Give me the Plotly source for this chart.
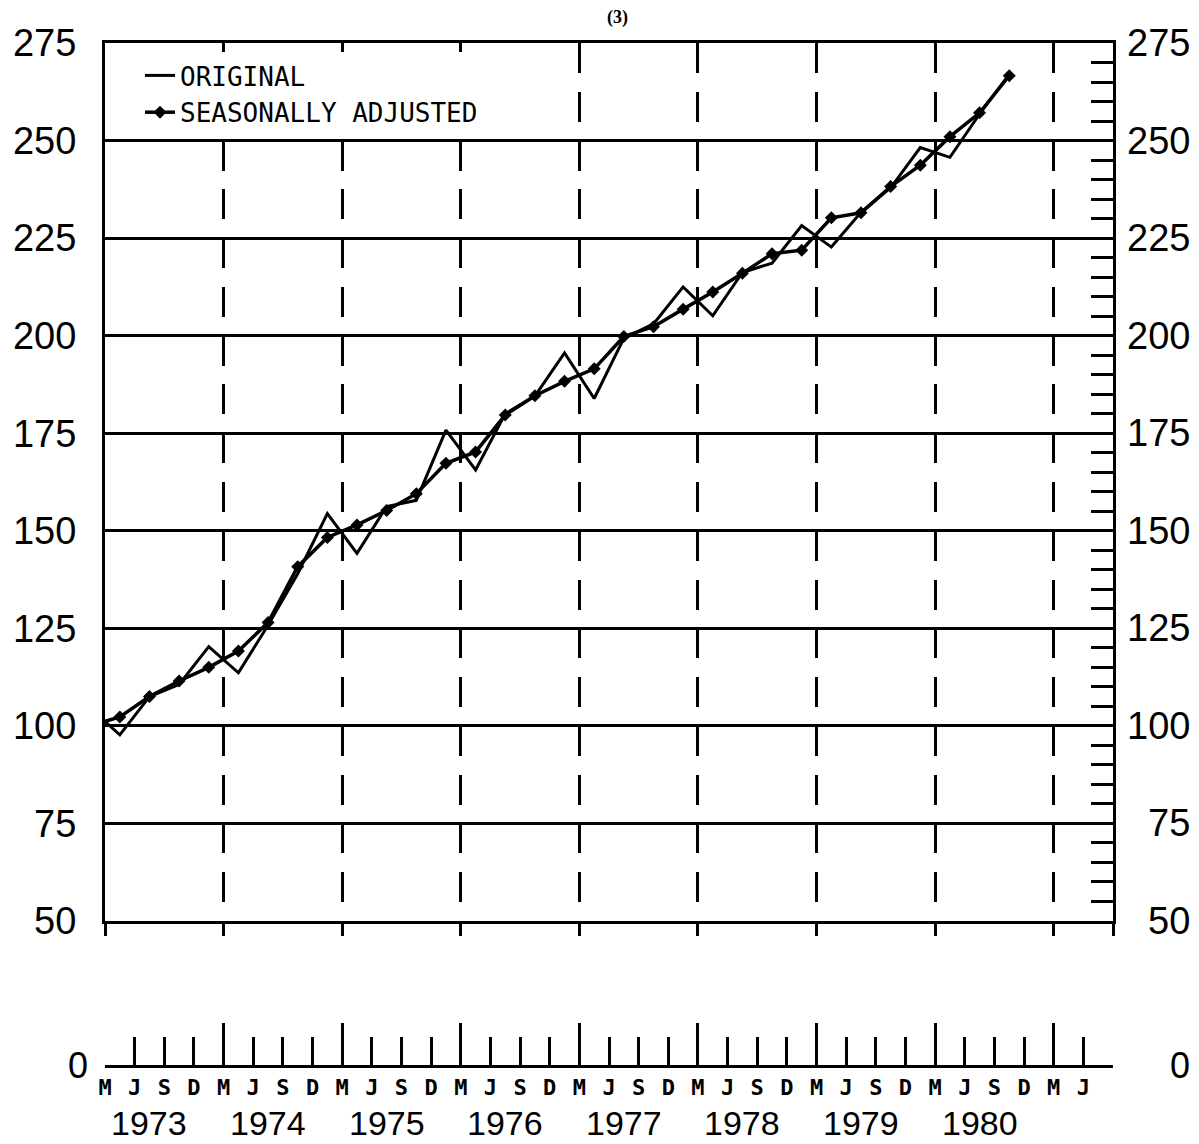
import plotly.graph_objects as go

# ---- data (quarterly index, plotted at mid-quarter; x unit = one quarter from March 1973) ----
quarter_x = [-0.5, 0.5, 1.5, 2.5, 3.5, 4.5, 5.5, 6.5, 7.5, 8.5, 9.5, 10.5, 11.5, 12.5, 13.5, 14.5,
             15.5, 16.5, 17.5, 18.5, 19.5, 20.5, 21.5, 22.5, 23.5, 24.5, 25.5, 26.5, 27.5, 28.5,
             29.5, 30.5]
original = [104.5, 97.7, 107.5, 110.6, 120.3, 113.6, 125.8, 139.0, 154.4, 144.2, 156.2, 157.8,
            175.8, 165.6, 180.0, 184.5, 195.6, 183.9, 199.3, 203.0, 212.5, 205.1, 216.2, 218.6,
            228.2, 222.7, 231.6, 237.9, 248.2, 245.7, 256.8, 267.0]
seasonally_adjusted = [100.0, 102.3, 107.5, 111.5, 115.0, 119.2, 126.5, 140.8, 148.3, 151.5,
                       155.2, 159.5, 167.3, 170.2, 179.7, 184.6, 188.3, 191.5, 199.8, 202.3,
                       206.8, 211.2, 216.0, 221.0, 221.9, 230.2, 231.5, 238.2, 243.7, 251.0,
                       257.1, 266.6]

y_ticks = [50, 75, 100, 125, 150, 175, 200, 225, 250, 275]
right_minor_ticks = list(range(50, 276, 5))
month_positions = list(range(34))
month_labels = ["M", "J", "S", "D"] * 8 + ["M", "J"]
year_major_ticks = [0, 4, 8, 12, 16, 20, 24, 28, 32, 34]
years = ["1973", "1974", "1975", "1976", "1977", "1978", "1979", "1980"]
year_centers = [1.5, 5.5, 9.5, 13.5, 17.5, 21.5, 25.5, 29.5]
x_range = [0, 34]
y_range = [50, 275]

# ---- layout geometry (figure coords; the page adds an 8px body margin) ----
OFF = 8
W, H = 1199 - OFF, 1144 - OFF
ML, MT = 105 - OFF, 43 - OFF
plot_right = 1113 - OFF
baseline = 1065 - OFF
MR, MB = W - plot_right, H - baseline
plot_w = W - ML - MR
plot_h = H - MT - MB
main_bottom_px = 921 - OFF
main_dom0 = (H - MB - main_bottom_px) / plot_h
px_per_unit = (main_bottom_px - MT) / (y_range[1] - y_range[0])
dash = "30px,%.2fpx" % (12.5 * px_per_unit - 30)

NUM_FONT = "Liberation Sans, Arial, sans-serif"
MONO_FONT = "DejaVu Sans Mono, monospace"
LW = 2.5

fig = go.Figure()
fig.add_trace(go.Scatter(
    x=quarter_x, y=original, mode="lines", name="ORIGINAL",
    line=dict(color="black", width=3), xaxis="x", yaxis="y", hoverinfo="skip"))
fig.add_trace(go.Scatter(
    x=quarter_x, y=seasonally_adjusted, mode="lines+markers", name="SEASONALLY ADJUSTED",
    line=dict(color="black", width=3.5), marker=dict(symbol="diamond", size=10, color="black"),
    xaxis="x", yaxis="y", hoverinfo="skip"))
# empty helper traces so that the auxiliary axes are drawn
fig.add_trace(go.Scatter(x=[], y=[], xaxis="x2", yaxis="y2", showlegend=False, hoverinfo="skip"))
fig.add_trace(go.Scatter(x=[], y=[], xaxis="x3", yaxis="y2", showlegend=False, hoverinfo="skip"))
fig.add_trace(go.Scatter(x=[], y=[], xaxis="x", yaxis="y3", showlegend=False, hoverinfo="skip"))

fig.update_layout(
    template="none",
    width=W, height=H,
    margin=dict(l=ML, r=MR, t=MT, b=MB, pad=0, autoexpand=False),
    paper_bgcolor="white", plot_bgcolor="white",
    showlegend=True,
    legend=dict(x=(140 - OFF - ML) / plot_w, y=1 - (52 - OFF - MT) / plot_h,
                xanchor="left", yanchor="top", bgcolor="white", borderwidth=0,
                font=dict(family=MONO_FONT, size=26, color="black"),
                tracegroupgap=0, itemwidth=30),
    xaxis=dict(domain=[0, 1], range=x_range, anchor="y", automargin=False,
               tickvals=year_major_ticks, ticks="outside", ticklen=12, tickwidth=LW,
               tickcolor="black", showticklabels=False,
               showgrid=True, gridcolor="black", gridwidth=3, griddash=dash,
               showline=True, linecolor="black", linewidth=3, mirror=True, zeroline=False),
    yaxis=dict(domain=[main_dom0, 1], range=y_range, anchor="x", automargin=False,
               tickvals=y_ticks, ticktext=[str(v) for v in y_ticks], ticks="",
               tickfont=dict(family=NUM_FONT, size=38, color="black"), ticklabelstandoff=18,
               showgrid=True, gridcolor="black", gridwidth=LW,
               showline=True, linecolor="black", linewidth=3, zeroline=False),
    yaxis3=dict(overlaying="y", side="right", anchor="x", range=y_range, automargin=False,
                tickvals=right_minor_ticks, ticks="inside", ticklen=22, tickwidth=LW,
                tickcolor="black", showticklabels=False, showgrid=False,
                showline=True, linecolor="black", linewidth=3, zeroline=False),
    xaxis2=dict(domain=[0, 1], range=x_range, anchor="y2", automargin=False,
                tickvals=month_positions, ticktext=month_labels,
                ticks="inside", ticklen=28, tickwidth=LW, tickcolor="black",
                tickfont=dict(family=MONO_FONT, size=22, color="black", weight="bold"),
                ticklabelstandoff=1,
                showline=True, linecolor="black", linewidth=3, showgrid=False, zeroline=False),
    xaxis3=dict(overlaying="x2", anchor="y2", range=x_range, automargin=False,
                tickvals=year_major_ticks, ticks="inside", ticklen=42, tickwidth=LW,
                tickcolor="black", showticklabels=False, showline=False,
                showgrid=False, zeroline=False),
    yaxis2=dict(domain=[0, 0.045], range=[0, 1], anchor="x2", automargin=False,
                tickvals=[0], ticktext=["0"], ticks="",
                tickfont=dict(family=NUM_FONT, size=36, color="black"), ticklabelstandoff=16,
                showline=False, showgrid=False, zeroline=False),
)

annotations = []
right_label_x = (1192 - OFF - ML) / plot_w
for v in y_ticks:
    annotations.append(dict(x=right_label_x, xref="paper", y=v, yref="y", text=str(v),
                            showarrow=False, xanchor="right", yanchor="middle",
                            font=dict(family=NUM_FONT, size=38, color="black")))
annotations.append(dict(x=right_label_x, xref="paper", y=0, yref="y2", text="0",
                        showarrow=False, xanchor="right", yanchor="middle",
                        font=dict(family=NUM_FONT, size=36, color="black")))
for yc, yr in zip(year_centers, years):
    annotations.append(dict(x=yc, xref="x2", y=-((1123 - OFF) - baseline) / plot_h, yref="paper",
                            text=yr, showarrow=False, xanchor="center", yanchor="middle",
                            font=dict(family=NUM_FONT, size=34, color="black")))
annotations.append(dict(x=(617 - OFF - ML) / plot_w, xref="paper",
                        y=1 + (MT - (17 - OFF)) / plot_h,
                        yref="paper", text="<b>(3)</b>", showarrow=False,
                        xanchor="center", yanchor="middle",
                        font=dict(family="Liberation Serif, serif", size=18, color="black")))
fig.update_layout(annotations=annotations)

fig.write_html("out.html")
